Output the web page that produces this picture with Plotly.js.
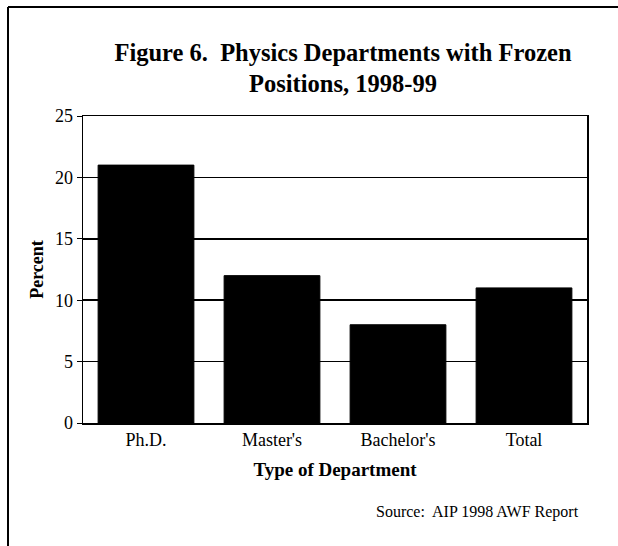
<!DOCTYPE html>
<html>
<head>
<meta charset="utf-8">
<script src="https://cdn.plot.ly/plotly-3.0.1.min.js"></script>
<style>body{margin:0;background:#fff}#chart{width:618px;height:546px}</style>
</head>
<body>
<div id="chart"></div>
<script>
const categories = ["Ph.D.", "Master's", "Bachelor's", "Total"];
const percentValues = [21, 12, 8, 11];
const yTickValues = [0, 5, 10, 15, 20, 25];

const serif = "Liberation Serif, Times New Roman, serif";

const trace = {
  type: 'bar',
  x: categories,
  y: percentValues,
  marker: {color: '#000', line: {color: '#000', width: 1}},
  hoverinfo: 'x+y'
};

const layout = {
  width: 618,
  height: 546,
  paper_bgcolor: '#fff',
  plot_bgcolor: '#fff',
  margin: {l: 83, r: 31, t: 116, b: 123},
  bargap: 0.24,
  showlegend: false,
  font: {family: serif, color: '#000', size: 18},
  title: {
    text: '<b>Figure 6.  Physics Departments with Frozen<br>Positions, 1998-99</b>',
    font: {family: serif, size: 24.5, color: '#000'},
    x: 0.555, xanchor: 'center',
    y: 0.889, yanchor: 'middle'
  },
  xaxis: {
    type: 'category',
    showline: true, linecolor: '#000', linewidth: 1.5, mirror: true,
    ticks: '', showgrid: false,
    tickfont: {family: serif, size: 18, color: '#000'},
    title: {text: '<b>Type of Department</b>', font: {family: serif, size: 19, color: '#000'}, standoff: 13}
  },
  yaxis: {
    range: [0, 25],
    tickvals: yTickValues,
    showline: true, linecolor: '#000', linewidth: 1.5, mirror: true,
    ticks: 'outside', ticklen: 5, tickcolor: '#000', tickwidth: 1,
    showgrid: true, gridcolor: '#000', gridwidth: 1.5,
    zeroline: false,
    tickfont: {family: serif, size: 18, color: '#000'},
    title: {text: '<b>Percent</b>', font: {family: serif, size: 18, color: '#000'}, standoff: 6}
  },
  annotations: [{
    text: 'Source:  AIP 1998 AWF Report',
    xref: 'paper', yref: 'paper',
    x: 0.988, xanchor: 'right',
    y: -0.29, yanchor: 'middle',
    showarrow: false,
    font: {family: serif, size: 16, color: '#000'}
  }],
  shapes: [
    {type: 'line', xref: 'paper', yref: 'paper', x0: -0.1488, x1: 1.1, y0: 1.355, y1: 1.355, line: {color: '#000', width: 2}},
    {type: 'line', xref: 'paper', yref: 'paper', x0: -0.1488, x1: -0.1488, y0: 1.355, y1: -0.41, line: {color: '#000', width: 2}}
  ]
};

Plotly.newPlot('chart', [trace], layout, {displayModeBar: false, staticPlot: true});
</script>
</body>
</html>
